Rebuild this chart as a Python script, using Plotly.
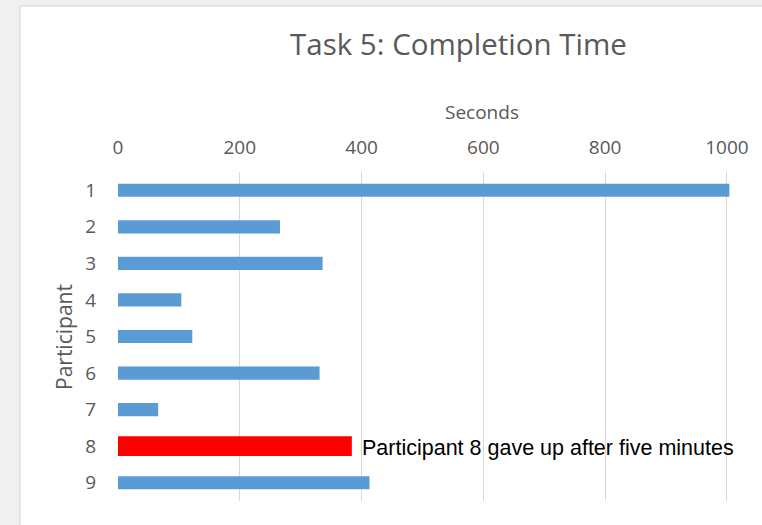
import plotly.graph_objects as go

participants = ["1", "2", "3", "4", "5", "6", "7", "8", "9"]
seconds = [1004, 266, 336, 104, 122, 331, 66, 384, 413]
x_ticks = [0, 200, 400, 600, 800, 1000]
gave_up = "8"
note = "Participant 8 gave up after five minutes"

W, H = 762, 525
L, R, T, B = 118, 32, 172, 24
pw, ph = W - L - R, H - T - B

colors = ["#ff0000" if p == gave_up else "#5b9bd5" for p in participants]
widths = [0.54 if p == gave_up else 0.36 for p in participants]

fig = go.Figure(
    go.Bar(
        x=seconds,
        y=participants,
        orientation="h",
        marker=dict(color=colors, line=dict(width=0)),
        width=widths,
    )
)


def px_x(p):
    return (p - L) / pw


def px_y(p):
    return (H - B - p) / ph


fig.update_layout(
    width=W,
    height=H,
    margin=dict(l=L, r=R, t=T, b=B),
    paper_bgcolor="#f0f0f0",
    plot_bgcolor="rgba(0,0,0,0)",
    showlegend=False,
    font=dict(family="Open Sans, sans-serif", color="#595959"),
    xaxis=dict(
        side="top",
        range=[0, 1005],
        tickvals=x_ticks,
        showgrid=True,
        gridcolor="#d9d9d9",
        gridwidth=1,
        zeroline=False,
        showline=False,
        tickfont=dict(size=19, color="#595959"),
        ticks="",
        ticklabelstandoff=13,
    ),
    yaxis=dict(
        type="category",
        autorange=False,
        range=[8.5, -0.5],
        showgrid=False,
        zeroline=False,
        showline=False,
        ticks="",
        tickfont=dict(size=19, color="#595959"),
        ticklabelstandoff=21,
    ),
    shapes=[
        dict(
            type="rect", xref="paper", yref="paper", layer="below",
            x0=px_x(20), x1=px_x(W + 10), y0=px_y(H + 10), y1=px_y(6),
            fillcolor="white", line=dict(color="#d4d4d4", width=1),
        )
    ],
    annotations=[
        dict(
            text="Task 5: Completion Time", xref="paper", yref="paper",
            x=px_x(458), y=px_y(43), showarrow=False,
            xanchor="center", yanchor="middle",
            font=dict(size=29.5, color="#595959"),
        ),
        dict(
            text="Seconds", xref="paper", yref="paper",
            x=px_x(482), y=px_y(112), showarrow=False,
            xanchor="center", yanchor="middle",
            font=dict(size=19, color="#595959"),
        ),
        dict(
            text="Participant", xref="paper", yref="paper",
            x=px_x(64), y=px_y(337), showarrow=False, textangle=-90,
            xanchor="center", yanchor="middle",
            font=dict(size=21, color="#595959"),
        ),
        dict(
            text=note, x=seconds[participants.index(gave_up)],
            y=participants.index(gave_up),
            xref="x", yref="y", showarrow=False, xanchor="left",
            yanchor="middle", xshift=8, yshift=-2,
            font=dict(family="Liberation Sans, Arial, sans-serif",
                      size=21.5, color="#000000"),
        ),
    ],
)

fig.write_html(
    "out.html",
    config={"displayModeBar": False},
    post_script="document.body.style.margin='0px';",
)
